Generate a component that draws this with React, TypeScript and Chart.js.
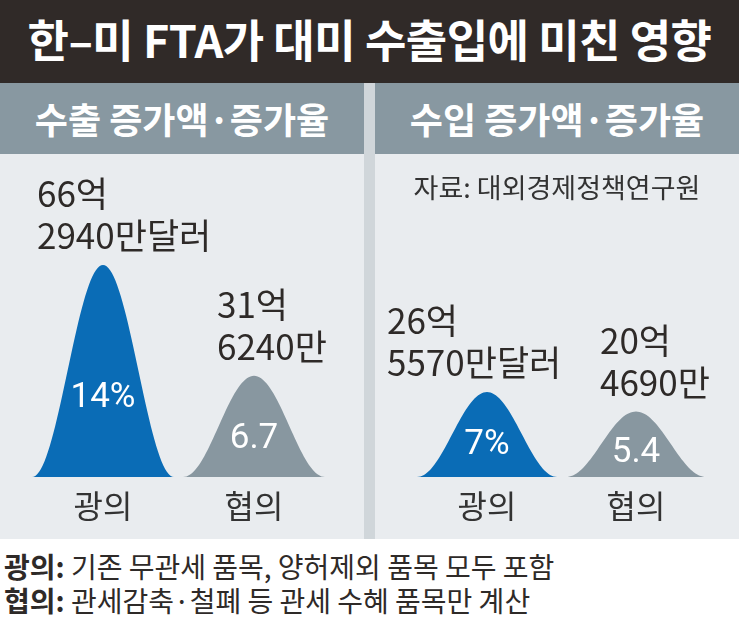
import React, { useEffect, useRef } from "react";
import { Chart, registerables } from "chart.js";

Chart.register(...registerables);

// ---------- data ----------
const titleText = "한–미 FTA가 대미 수출입에 미친 영향";
const panelTitles = ["수출 증가액·증가율", "수입 증가액·증가율"];
const sourceText = "자료: 대외경제정책연구원";
const categories = ["광의", "협의"];
// 증가액 (억 달러)
const exportAmounts = [66.294, 31.624];
const importAmounts = [26.557, 20.469];
const exportAmountLabels = [["66억", "2940만달러"], ["31억", "6240만"]];
const importAmountLabels = [["26억", "5570만달러"], ["20억", "4690만"]];
// 증가율 (%)
const exportRateLabels = ["14%", "6.7"];
const importRateLabels = ["7%", "5.4"];
const footnoteTerms = ["광의:", "협의:"];
const footnoteTexts = [
  "기존 무관세 품목, 양허제외 품목 모두 포함",
  "관세감축·철폐 등 관세 수혜 품목만 계산",
];

// ---------- style ----------
const FONT = '"Noto Sans CJK KR", "Noto Sans", sans-serif';
const BLUE = "#0a6cb6";
const GREY = "#8897a0";
const DARK = "#2e2a28";
const PANEL_BG = "#e9ecef";
const HEADER_BG = "#8898a1";
const DIVIDER = "#d0d6da";

const bellPlugin = {
  id: "bellPlugin",
  afterDatasetsDraw(chart: any, _args: any, opts: any) {
    const ctx = chart.ctx;
    const meta = chart.getDatasetMeta(0);
    const colors: string[] = opts.colors;
    meta.data.forEach((el: any, i: number) => {
      const { x, y, base, width } = el.getProps(["x", "y", "base", "width"], true);
      const h = base - y;
      const half = width / 2;
      // bell-shaped mark spanning the bar's width and height
      ctx.save();
      ctx.beginPath();
      ctx.moveTo(x - half, base);
      const steps = 80;
      for (let s = 0; s <= steps; s++) {
        const u = -1 + (2 * s) / steps;
        const v = (1 + Math.cos(Math.PI * u)) / 2;
        ctx.lineTo(x + u * half, base - h * v);
      }
      ctx.lineTo(x + half, base);
      ctx.closePath();
      ctx.fillStyle = colors[i];
      ctx.fill();

      // rate label inside the bell
      ctx.fillStyle = "#ffffff";
      ctx.font = `35px Roboto, ${FONT}`;
      ctx.textAlign = "center";
      ctx.textBaseline = "middle";
      ctx.fillText(opts.rateLabels[i], x, base - 0.37 * h);

      // amount label above the bell
      ctx.fillStyle = DARK;
      ctx.font = `35px ${FONT}`;
      ctx.textAlign = "left";
      ctx.textBaseline = "alphabetic";
      const lines: string[] = opts.amountLabels[i];
      const lx = x + opts.labelDx[i];
      ctx.fillText(lines[1], lx, y - 16);
      ctx.fillText(lines[0], lx, y - 16 - 42);

      // category label under the baseline
      ctx.font = `32px ${FONT}`;
      ctx.textAlign = "center";
      ctx.textBaseline = "middle";
      ctx.fillStyle = "#333333";
      ctx.fillText(chart.data.labels[i], x, base + 29);
      ctx.restore();
    });
  },
};

function Panel(props: {
  left: number;
  values: number[];
  amountLabels: string[][];
  rateLabels: string[];
  padLeft: number;
  padRight: number;
  labelDx: number[];
}) {
  const ref = useRef<HTMLCanvasElement>(null);
  useEffect(() => {
    const chart = new Chart(ref.current as HTMLCanvasElement, {
      type: "bar",
      data: {
        labels: categories,
        datasets: [
          {
            data: props.values,
            backgroundColor: "rgba(0,0,0,0)",
            borderWidth: 0,
            barPercentage: 0.94,
            categoryPercentage: 1,
          },
        ],
      },
      options: {
        responsive: false,
        animation: false,
        devicePixelRatio: 1,
        layout: { padding: { left: props.padLeft, right: props.padRight, top: 0, bottom: 62 } },
        scales: {
          x: { display: false },
          y: { display: false, min: 0, max: 101 },
        },
        plugins: {
          legend: { display: false },
          tooltip: { enabled: false },
          bellPlugin: {
            colors: [BLUE, GREY],
            amountLabels: props.amountLabels,
            rateLabels: props.rateLabels,
            labelDx: props.labelDx,
          },
        } as any,
      },
      plugins: [bellPlugin],
    });
    return () => chart.destroy();
  }, []);
  return (
    <div style={{ position: "absolute", left: props.left, top: 154, width: 364, height: 385, background: PANEL_BG }}>
      <canvas ref={ref} width={364} height={385} style={{ position: "absolute", left: 0, top: 0 }} />
    </div>
  );
}

export default function App() {
  return (
    <div style={{ position: "absolute", left: 0, top: 0, width: 739, height: 628, background: "#ffffff", overflow: "hidden", fontFamily: FONT }}>
      <div style={{ position: "absolute", left: 0, top: 0, width: 739, height: 83, background: "#302a28", color: "#fff", fontSize: 45, fontWeight: 700, textAlign: "center", lineHeight: "78px", whiteSpace: "nowrap", letterSpacing: -0.5 }}>
        {titleText}
      </div>
      <div style={{ position: "absolute", left: 364, top: 83, width: 11, height: 456, background: DIVIDER }} />
      {[0, 375].map((l, i) => (
        <div key={i} style={{ position: "absolute", left: l, top: 83, width: 364, height: 71, background: HEADER_BG, color: "#fff", fontSize: 36, fontWeight: 700, textAlign: "center", lineHeight: "70px", whiteSpace: "nowrap" }}>
          {panelTitles[i]}
        </div>
      ))}
      <Panel left={0} values={exportAmounts} amountLabels={exportAmountLabels} rateLabels={exportRateLabels} padLeft={27.5} padRight={34.5} labelDx={[-66, -37]} />
      <Panel left={375} values={importAmounts} amountLabels={importAmountLabels} rateLabels={importRateLabels} padLeft={37.5} padRight={28.5} labelDx={[-100, -36]} />
      <div style={{ position: "absolute", left: 375, top: 168, width: 364, textAlign: "center", fontSize: 27, lineHeight: "38px", color: "#333" }}>
        {sourceText}
      </div>
      {footnoteTerms.map((t, i) => (
        <div key={i} style={{ position: "absolute", left: 4, top: 546 + i * 34, fontSize: 28, lineHeight: "40px", color: DARK, whiteSpace: "nowrap" }}>
          <b>{t}</b> {footnoteTexts[i]}
        </div>
      ))}
    </div>
  );
}
